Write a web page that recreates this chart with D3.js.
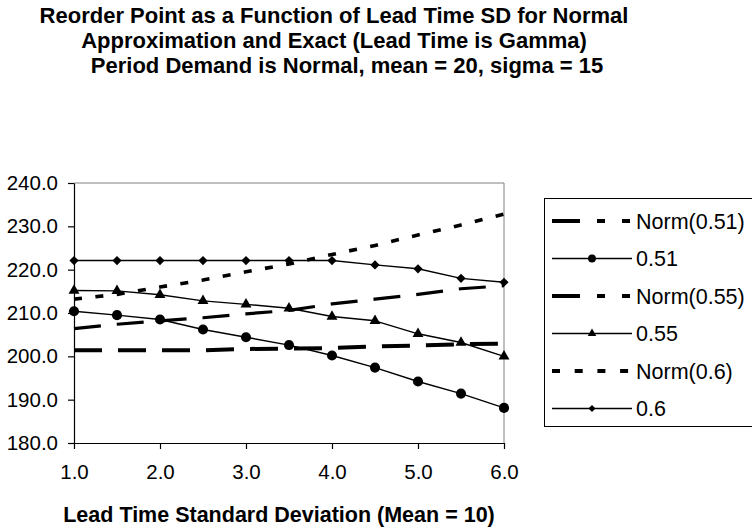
<!DOCTYPE html>
<html>
<head>
<meta charset="utf-8">
<script src="https://cdn.jsdelivr.net/npm/d3@7"></script>
<style>
  body { margin: 0; background: #fff; }
  svg { display: block; font-family: "Liberation Sans", Arial, sans-serif; }
  .tick text { font-size: 20.5px; fill: #000; }
</style>
</head>
<body>
<div id="chart"></div>
<script>
// lead time SD (category axis)
var leadSD = [1.0, 1.5, 2.0, 2.5, 3.0, 3.5, 4.0, 4.5, 5.0, 5.5, 6.0];
var yTicks = [180, 190, 200, 210, 220, 230, 240];

var seriesNames = ["Norm(0.51)", "0.51", "Norm(0.55)", "0.55", "Norm(0.6)", "0.6"];
var norm051 = [201.4, 201.4, 201.4, 201.4, 201.7, 201.8, 201.9, 202.3, 202.5, 202.8, 202.9];
var exact051 = [210.4, 209.5, 208.5, 206.2, 204.4, 202.6, 200.2, 197.4, 194.2, 191.4, 188.1];
var norm055 = [206.4, 207.4, 208.2, 208.9, 209.8, 210.6, 212.1, 213.2, 214.3, 215.6, 216.3];
var exact055 = [215.2, 215.1, 214.2, 212.8, 212.0, 211.1, 209.2, 208.2, 205.2, 203.2, 200.0];
var norm06 = [213.2, 214.3, 216.0, 217.6, 219.5, 221.3, 223.5, 225.6, 228.0, 230.3, 232.8];
var exact06 = [222.1, 222.1, 222.1, 222.1, 222.1, 222.1, 222.1, 221.1, 220.2, 218.0, 217.1];

var seriesValues = [norm051, exact051, norm055, exact055, norm06, exact06];

// how each series is drawn
var styles = [
  {width: 4, dash: "28,16", legendDash: "28,17,8,17,8,20", marker: null},
  {width: 1.4, dash: null, marker: "circle"},
  {width: 3.2, dash: "27,16", legendDash: "28,17,8,17,8,20", marker: null},
  {width: 1.4, dash: null, marker: "triangle"},
  {width: 3.6, dash: "8,13.5", legendDash: "8,14.7", marker: null},
  {width: 1.4, dash: null, marker: "diamond"}
];

var svgWidth = 752;
var svgHeight = 531;

var plot = {left: 74, right: 504, top: 183, bottom: 443};

var svg = d3.select("#chart")
  .append("svg")
  .attr("width", svgWidth)
  .attr("height", svgHeight);

var xScale = d3.scaleLinear().domain([1, 6]).range([plot.left, plot.right]);
var yScale = d3.scaleLinear().domain([180, 240]).range([plot.bottom, plot.top]);

// Titles
var titleLines = [
  {text: "Reorder Point as a Function of Lead Time SD for Normal", x: 334, y: 23},
  {text: "Approximation and Exact (Lead Time is Gamma)", x: 334, y: 48},
  {text: "Period Demand is Normal, mean = 20, sigma = 15", x: 347, y: 73}
];
svg.selectAll(".title").data(titleLines).enter()
  .append("text")
  .attr("class", "title")
  .attr("x", d => d.x)
  .attr("y", d => d.y)
  .attr("text-anchor", "middle")
  .style("font-size", "22px")
  .style("font-weight", "bold")
  .text(d => d.text);

// Plot area frame: top and right grey
svg.append("path")
  .attr("d", `M${plot.left},${plot.top}H${plot.right}V${plot.bottom}`)
  .attr("fill", "none")
  .attr("stroke", "#808080")
  .attr("stroke-width", 1);

// Axes
var bottomAxis = d3.axisBottom(xScale)
  .tickValues([1, 2, 3, 4, 5, 6])
  .tickFormat(d3.format(".1f"))
  .tickSize(6)
  .tickSizeOuter(0)
  .tickPadding(15);
var leftAxis = d3.axisLeft(yScale)
  .tickValues(yTicks)
  .tickFormat(d3.format(".1f"))
  .tickSize(6)
  .tickSizeOuter(0)
  .tickPadding(10);

var xAxisG = svg.append("g")
  .attr("transform", `translate(0, ${plot.bottom})`)
  .call(bottomAxis);
var yAxisG = svg.append("g")
  .attr("transform", `translate(${plot.left}, 0)`)
  .call(leftAxis);

[xAxisG, yAxisG].forEach(g => {
  g.select(".domain").attr("stroke", "#000").attr("stroke-width", 1.2);
  g.selectAll(".tick line").attr("stroke", "#000").attr("stroke-width", 1.2);
  g.attr("font-family", null).attr("font-size", null);
});

// Lines
var line = d3.line()
  .x((d, i) => xScale(leadSD[i]))
  .y(d => yScale(d));

var linesG = svg.append("g");
seriesValues.forEach((vals, s) => {
  var st = styles[s];
  linesG.append("path")
    .datum(vals)
    .attr("d", line)
    .attr("fill", "none")
    .attr("stroke", "#000")
    .attr("stroke-width", st.width)
    .attr("stroke-dasharray", st.dash)
    .attr("stroke-linejoin", "round");
});

function markerPath(type, scale) {
  if (type === "circle") return d3.symbol(d3.symbolCircle, 80 * scale)();
  if (type === "triangle") return d3.symbol(d3.symbolTriangle, 52 * scale)();
  return d3.symbol(d3.symbolSquare, 42 * scale)();
}

seriesValues.forEach((vals, s) => {
  var st = styles[s];
  if (!st.marker) return;
  linesG.selectAll(null)
    .data(vals)
    .enter()
    .append("path")
    .attr("d", markerPath(st.marker, 1))
    .attr("transform", (d, i) => `translate(${xScale(leadSD[i])}, ${yScale(d)})` + (st.marker === "diamond" ? " rotate(45)" : ""))
    .attr("fill", "#000");
});

// X axis title
svg.append("text")
  .attr("x", 279)
  .attr("y", 522)
  .attr("text-anchor", "middle")
  .style("font-size", "21.5px")
  .style("font-weight", "bold")
  .text("Lead Time Standard Deviation (Mean = 10)");

// Legend
var legend = svg.append("g");
legend.append("rect")
  .attr("x", 544.5)
  .attr("y", 198.5)
  .attr("width", 230)
  .attr("height", 228)
  .attr("fill", "#fff")
  .attr("stroke", "#000")
  .attr("stroke-width", 1);

var legendRows = legend.selectAll(".row")
  .data(seriesNames)
  .enter()
  .append("g")
  .attr("class", "row")
  .attr("transform", (d, i) => `translate(0, ${221 + i * 37.5})`);

legendRows.append("line")
  .attr("x1", 552)
  .attr("x2", 632)
  .attr("stroke", "#000")
  .attr("stroke-width", (d, i) => styles[i].marker ? 1.4 : 4)
  .attr("stroke-dasharray", (d, i) => styles[i].legendDash || null);

legendRows.filter((d, i) => styles[i].marker)
  .append("path")
  .attr("d", function(d) {
    var i = seriesNames.indexOf(d);
    return markerPath(styles[i].marker, 0.6);
  })
  .attr("transform", function(d) {
    var i = seriesNames.indexOf(d);
    return "translate(592, 0)" + (styles[i].marker === "diamond" ? " rotate(45)" : "");
  })
  .attr("fill", "#000");

legendRows.append("text")
  .attr("x", 636)
  .attr("y", 0)
  .attr("dy", "0.35em")
  .style("font-size", "21.5px")
  .text(d => d);
</script>
</body>
</html>
